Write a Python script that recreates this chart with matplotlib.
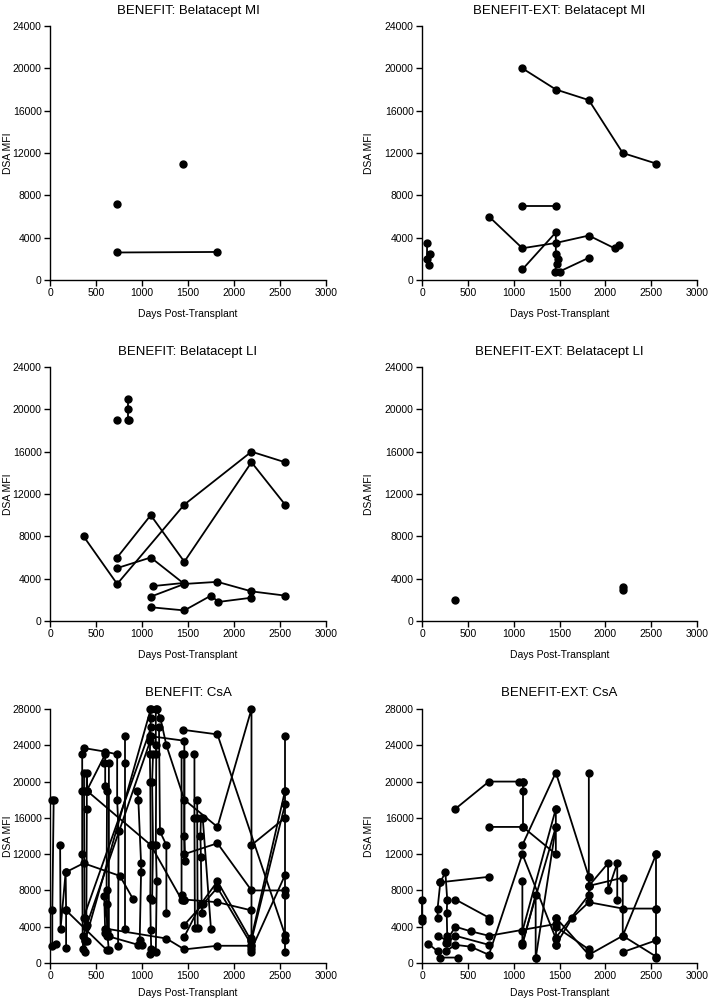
import matplotlib
matplotlib.use("Agg")
import matplotlib.pyplot as plt

plt.rcParams['font.family'] = ['Liberation Sans', 'DejaVu Sans']

# ---- data: each panel is a list of patient tracks [(day, MFI), ...] ----
titles = ["BENEFIT: Belatacept MI", "BENEFIT-EXT: Belatacept MI",
          "BENEFIT: Belatacept LI", "BENEFIT-EXT: Belatacept LI",
          "BENEFIT: CsA", "BENEFIT-EXT: CsA"]

bene_mi = [
    [(730, 7200)],
    [(1450, 11000)],
    [(730, 2600), (1820, 2650)],
]

ext_mi = [
    [(1095, 20000), (1460, 18000), (1820, 17000), (2190, 12000), (2555, 11000)],
    [(1095, 7000), (1460, 7000)],
    [(730, 6000), (1095, 3000), (1460, 3500), (1820, 4200), (2100, 3000), (2150, 3300)],
    [(1095, 1000), (1460, 4500), (1460, 2500), (1480, 2000), (1470, 1500), (1450, 800), (1500, 800), (1820, 2100)],
    [(55, 3500), (55, 2000), (90, 2500), (80, 1400)],
]

bene_li = [
    [(730, 19000)],
    [(850, 19000), (850, 20000), (850, 21000)],
    [(860, 19000)],
    [(365, 8000), (730, 3500), (1460, 11000), (2190, 16000), (2555, 15000)],
    [(730, 6000), (1095, 10000), (1460, 5600), (2190, 15000), (2555, 11000)],
    [(730, 5000), (1095, 6000), (1460, 3500), (1820, 3700), (2190, 2800), (2555, 2400)],
    [(1095, 2300), (1460, 3500)],
    [(1120, 3300), (1460, 3600)],
    [(1095, 1300), (1460, 1000), (1750, 2400), (1830, 1800), (2190, 2200)],
]

ext_li = [
    [(365, 2000)],
    [(2190, 3200), (2190, 2900)],
]

bene_csa = [
    [(20, 18000), (40, 18000), (25, 5800), (25, 1900), (70, 2100)],
    [(110, 13000), (115, 3800), (170, 10000), (175, 5800), (175, 1600)],
    [(170, 10000), (365, 11000), (760, 9600), (900, 7100)],
    [(175, 5800), (620, 1400)],
    [(365, 23700), (600, 23300), (730, 23000), (730, 18000), (745, 14500), (740, 1900)],
    [(350, 23000), (350, 19000), (350, 12000), (355, 3000), (360, 1500)],
    [(370, 21000), (370, 19000), (375, 5000), (375, 2500), (380, 1200)],
    [(400, 19000), (400, 21000), (400, 17000), (395, 4000), (400, 2400)],
    [(400, 19000), (600, 23000), (600, 19500), (620, 19000), (615, 8000), (620, 6500), (620, 3500), (640, 1400)],
    [(590, 22000), (640, 22000), (640, 3000), (590, 7400), (600, 3300)],
    [(615, 3000), (960, 2000)],
    [(820, 25000), (820, 22000), (820, 3700)],
    [(380, 2400), (1095, 28000)],
    [(400, 4200), (1090, 24500)],
    [(365, 5000), (1100, 26000)],
    [(400, 19000), (1095, 13000), (1430, 7000), (1460, 7000), (1820, 6700), (2190, 5800)],
    [(950, 19000), (960, 18000), (990, 11000), (990, 10000), (975, 2500), (1000, 2000)],
    [(1090, 28000), (1095, 27000), (1090, 25000), (1085, 23000), (1090, 20000), (1095, 13000),
     (1090, 7200), (1095, 3600), (1100, 1500), (1090, 1000)],
    [(1120, 23000), (1110, 20000), (1120, 13000), (1110, 7000)],
    [(1150, 28000), (1150, 24000), (1155, 23000), (1150, 13000), (1160, 9000), (1150, 1200)],
    [(1160, 28000), (1200, 27000), (1265, 24000), (1460, 18000), (1820, 15000), (2190, 28000), (2190, 1200)],
    [(1185, 26000), (1195, 14500), (1265, 13000), (1265, 5500)],
    [(1095, 25000), (1460, 24500), (1460, 14000), (1470, 11200)],
    [(1450, 25700), (1820, 25200), (2555, 3100)],
    [(1430, 23000), (1430, 7500), (1460, 7000)],
    [(1460, 23000), (1460, 12000), (1820, 13200), (2190, 8000), (2555, 8000)],
    [(1570, 23000), (1570, 16000), (1575, 3900)],
    [(1600, 18000), (1600, 16000), (1605, 3900)],
    [(1640, 16000), (1635, 14000), (1640, 11700), (1650, 5500), (1660, 6500)],
    [(1660, 16000), (1750, 3700)],
    [(1460, 2900), (1640, 6500), (1820, 9000), (2190, 2400)],
    [(1460, 4200), (1820, 8300), (2190, 2000)],
    [(600, 3800), (1265, 2700), (1460, 1500), (1820, 1900), (2190, 1900)],
    [(2190, 13000), (2555, 16000)],
    [(2190, 2800), (2555, 19000)],
    [(2190, 2500), (2555, 17500)],
    [(2190, 1500), (2555, 9700)],
    [(2555, 25000), (2555, 19000), (2555, 7500), (2555, 2500), (2555, 1200)],
]

ext_csa = [
    [(0, 7000), (0, 5000), (0, 4600)],
    [(70, 2100), (170, 1300), (200, 600), (390, 600)],
    [(170, 5000), (170, 6000), (200, 8900), (730, 9500)],
    [(200, 8900), (255, 10000), (275, 7000), (270, 5500), (275, 3000), (260, 2200)],
    [(170, 3000), (270, 2500), (365, 4000), (530, 3500), (730, 3000), (1460, 4300)],
    [(270, 2200), (365, 3000), (730, 2000)],
    [(260, 1300), (365, 2000), (530, 1800), (730, 900), (1095, 12000), (1460, 2700)],
    [(365, 17000), (730, 20000), (1060, 20000), (1100, 20000)],
    [(1100, 20000), (1100, 19000), (1100, 15000)],
    [(730, 15000), (1100, 15000), (1460, 12000), (1460, 17000)],
    [(365, 7000), (730, 5000), (730, 4600)],
    [(1095, 13000), (1460, 21000), (1820, 9500)],
    [(1095, 9000), (1095, 2000), (1240, 7500), (1240, 500)],
    [(1095, 3500), (1460, 17000)],
    [(1095, 2200), (1460, 15000)],
    [(1240, 500), (1460, 15000)],
    [(1460, 5000), (1820, 900), (2190, 3000), (2555, 700)],
    [(1460, 2000), (1640, 5000), (1820, 6700), (2190, 6000), (2555, 6000)],
    [(2555, 12000), (2555, 6000), (2555, 2500), (2555, 600)],
    [(2555, 12000), (2190, 3000), (2190, 9400), (1820, 8500)],
    [(1820, 21000), (1820, 9500), (1820, 8500), (2030, 11000), (2030, 8000), (2130, 11000), (2130, 7000)],
    [(1460, 2800), (1820, 7500), (1820, 8500)],
    [(2190, 1200), (2555, 2500)],
    [(1460, 4000), (1820, 1500)],
    [(1460, 5000), (1460, 2000)],
]

panels = [bene_mi, ext_mi, bene_li, ext_li, bene_csa, ext_csa]
ymaxes = [24000, 24000, 24000, 24000, 28000, 28000]

# ---- layout (pixel based) ----
W, H = 709, 998
fig = plt.figure(figsize=(W / 100, H / 100), dpi=100)
col_left = [50, 422]
col_w = [276, 275]
row_top = [26, 367, 709]
ax_h = 254
ylab_x = [-0.135, -0.175]
xlab_y = [-0.115, -0.115, -0.1]

for i, (tracks, title, ymax) in enumerate(zip(panels, titles, ymaxes)):
    r, c = divmod(i, 2)
    ax = fig.add_axes([col_left[c] / W, 1 - (row_top[r] + ax_h) / H, col_w[c] / W, ax_h / H])
    for tr in tracks:
        xs = [p[0] for p in tr]
        ys = [p[1] for p in tr]
        ax.plot(xs, ys, color='black', lw=1.3, marker='o', ms=5, clip_on=False, zorder=3)
    ax.set_xlim(0, 3000)
    ax.set_ylim(0, ymax)
    ax.set_xticks(range(0, 3001, 500))
    ax.set_yticks(range(0, ymax + 1, 4000))
    for s in ['top', 'right']:
        ax.spines[s].set_visible(False)
    for s in ['left', 'bottom']:
        ax.spines[s].set_linewidth(1.0)
    ax.tick_params(direction='out', length=4, width=1.0, labelsize=7.5, pad=2)
    ax.set_title(title, fontsize=9.5, pad=9)
    ax.set_ylabel("DSA MFI", fontsize=7.5)
    ax.yaxis.set_label_coords(ylab_x[c], 0.5)
    ax.set_xlabel("Days Post-Transplant", fontsize=7.5)
    ax.xaxis.set_label_coords(0.5, xlab_y[r])

fig.savefig("out.png", dpi=100)
